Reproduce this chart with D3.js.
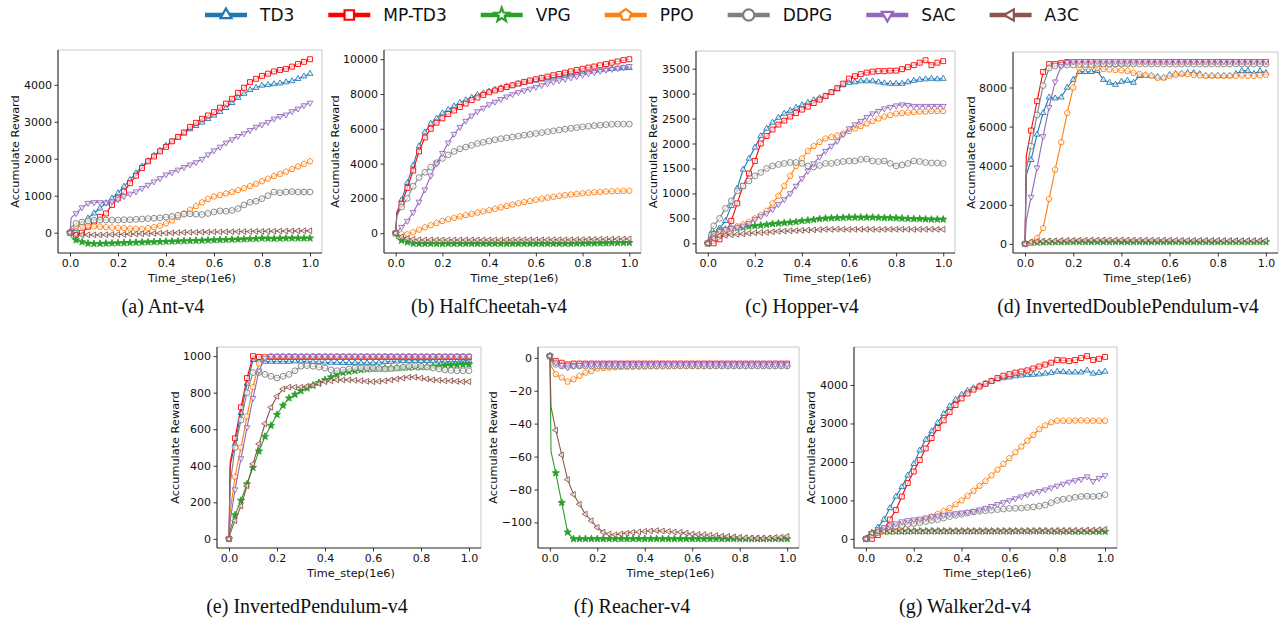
<!DOCTYPE html>
<html><head><meta charset="utf-8">
<script src="https://cdn.jsdelivr.net/npm/d3@7"></script>
<style>body{margin:0;background:#fff}svg{display:block}</style>
</head><body>
<svg id="c" width="1287" height="620"></svg>
<script>
// ---------- DATA ----------
const steps = [0,0.005,
 0.025,0.05,0.075,0.1,0.125,0.15,0.175,0.2,0.225,0.25,
 0.275,0.3,0.325,0.35,0.375,0.4,0.425,0.45,0.475,0.5,
 0.525,0.55,0.575,0.6,0.625,0.65,0.675,0.7,0.725,0.75,
 0.775,0.8,0.825,0.85,0.875,0.9,0.925,0.95,0.975,1.0];
const algorithms = ["TD3","MP-TD3","VPG","PPO","DDPG","SAC","A3C"];
const xTicks = [0,0.2,0.4,0.6,0.8,1.0];

// (a) Ant-v4
const ant_TD3 = [0,30,
 100,250,390,525,660,800,930,1070,1250,1430,
 1610,1790,1940,2080,2220,2350,2470,2580,2690,2800,
 2890,2980,3080,3170,3270,3375,3510,3650,3760,3860,
 3920,3980,4000,4020,4040,4070,4100,4160,4230,4300];
const ant_MPTD3 = [0,-20,
 -60,0,160,300,430,520,750,930,1110,1340,
 1540,1750,1930,2060,2200,2320,2470,2590,2710,2860,
 2970,3080,3170,3260,3380,3490,3620,3780,3920,4070,
 4160,4240,4300,4360,4400,4430,4490,4560,4620,4690];
const ant_VPG = [0,-120,
 -200,-250,-290,-300,-295,-290,-285,-280,-275,-270,
 -265,-260,-255,-250,-245,-240,-235,-230,-225,-220,
 -215,-210,-205,-200,-195,-190,-185,-180,-175,-170,
 -165,-150,-155,-160,-155,-150,-150,-150,-150,-150];
const ant_PPO = [0,80,
 170,190,190,170,160,150,140,130,120,110,
 105,100,120,150,190,250,330,420,520,620,
 720,820,910,980,1020,1060,1100,1150,1200,1260,
 1320,1390,1460,1530,1590,1650,1720,1790,1860,1930];
const ant_DDPG = [0,150,
 250,290,320,340,340,340,340,340,350,350,
 360,370,380,390,400,420,440,470,500,510,
 500,490,520,560,590,580,600,650,750,820,
 850,920,1000,1100,1080,1100,1110,1100,1100,1100];
const ant_SAC = [0,400,
 520,680,800,820,820,810,840,900,980,1050,
 1110,1200,1290,1380,1470,1570,1630,1700,1770,1840,
 1900,1990,2110,2220,2320,2430,2520,2610,2680,2770,
 2860,2920,2990,3080,3150,3190,3280,3350,3440,3510];
const ant_A3C = [0,-20,
 -50,-60,-60,-60,-60,-55,-50,-50,-45,-40,
 -35,-30,-25,-20,-15,-10,-5,0,5,10,
 10,15,15,20,20,25,25,30,30,30,
 35,35,40,40,45,45,50,50,50,50];
const ant_yTicks = [0,1000,2000,3000,4000];

// (b) HalfCheetah-v4
const hc_TD3 = [0,1200,
 1900,2900,3900,5000,5800,6300,6600,6900,7100,7300,
 7500,7650,7800,7950,8050,8150,8250,8350,8450,8500,
 8580,8650,8720,8780,8840,8900,8960,9020,9080,9130,
 9180,9230,9280,9330,9380,9420,9450,9470,9490,9500];
const hc_MPTD3 = [0,1100,
 1700,2600,3600,4700,5500,6000,6350,6600,6850,7050,
 7250,7450,7650,7800,7950,8100,8200,8300,8400,8500,
 8600,8700,8780,8850,8930,9000,9080,9150,9230,9300,
 9380,9450,9520,9580,9650,9720,9800,9870,9950,10000];
const hc_VPG = [0,-300,
 -420,-520,-590,-600,-600,-600,-600,-610,-600,-600,
 -600,-600,-600,-600,-600,-600,-600,-600,-600,-600,
 -600,-600,-600,-600,-600,-600,-600,-600,-600,-600,
 -590,-590,-580,-580,-570,-570,-560,-560,-555,-550];
const hc_PPO = [0,-30,
 -50,-60,50,200,330,450,580,700,800,880,
 960,1040,1110,1180,1250,1320,1400,1480,1560,1640,
 1720,1790,1850,1920,1980,2040,2090,2140,2180,2220,
 2260,2290,2320,2350,2370,2390,2410,2420,2430,2440];
const hc_DDPG = [0,1000,
 1500,2000,2700,3200,3500,3800,4050,4300,4500,4700,
 4850,4950,5050,5150,5220,5300,5370,5430,5480,5530,
 5580,5630,5680,5730,5780,5830,5880,5930,5980,6030,
 6070,6110,6150,6180,6210,6240,6260,6270,6270,6270];
const hc_SAC = [0,80,
 350,700,1200,1800,2500,3300,4000,4600,5200,5700,
 6100,6450,6750,7000,7200,7400,7550,7700,7850,7980,
 8100,8200,8300,8400,8500,8600,8700,8780,8860,8940,
 9020,9100,9180,9250,9320,9380,9430,9480,9540,9600];
const hc_A3C = [0,-100,
 -220,-300,-350,-380,-390,-390,-390,-390,-390,-390,
 -390,-390,-390,-390,-390,-390,-390,-390,-390,-390,
 -380,-380,-380,-380,-380,-380,-380,-380,-380,-380,
 -370,-370,-360,-360,-350,-350,-340,-340,-335,-330];
const hc_yTicks = [0,2000,4000,6000,8000,10000];

// (c) Hopper-v4
const hop_TD3 = [0,80,
 200,300,450,750,1100,1480,1700,1920,2150,2300,
 2420,2520,2600,2660,2720,2770,2820,2870,2910,2950,
 3020,3090,3170,3220,3230,3250,3250,3250,3230,3210,
 3200,3200,3200,3230,3260,3280,3290,3300,3290,3300];
const hop_MPTD3 = [0,-10,
 0,80,200,450,800,1150,1400,1650,2000,2150,
 2280,2380,2460,2540,2610,2680,2740,2810,2880,2950,
 3030,3110,3200,3300,3350,3390,3420,3440,3450,3450,
 3460,3460,3490,3530,3570,3620,3670,3570,3620,3650];
const hop_VPG = [0,100,
 200,250,280,300,310,320,340,350,360,375,
 390,400,410,420,430,450,460,475,490,500,
 505,510,515,520,520,520,520,520,515,510,
 510,505,500,495,490,490,485,480,480,480];
const hop_PPO = [0,80,
 150,200,250,300,340,380,430,500,570,650,
 800,950,1150,1350,1550,1700,1850,1950,2030,2100,
 2130,2160,2200,2250,2300,2350,2400,2450,2500,2540,
 2570,2600,2610,2620,2630,2640,2640,2650,2650,2650];
const hop_DDPG = [0,200,
 350,500,700,850,1050,1150,1250,1350,1420,1500,
 1550,1580,1600,1620,1620,1600,1550,1530,1560,1600,
 1600,1620,1640,1650,1650,1680,1690,1650,1640,1650,
 1600,1550,1570,1600,1650,1640,1620,1610,1610,1600];
const hop_SAC = [0,100,
 200,250,280,300,320,350,400,480,540,600,
 680,780,880,1000,1150,1300,1450,1600,1730,1850,
 1950,2050,2180,2300,2380,2450,2530,2600,2650,2700,
 2730,2760,2780,2770,2750,2750,2750,2750,2750,2750];
const hop_A3C = [0,50,
 100,150,160,170,180,190,200,210,215,220,
 230,240,245,250,255,260,265,270,275,280,
 280,282,280,278,280,282,280,280,278,280,
 280,280,282,280,278,280,280,282,280,280];
const hop_yTicks = [0,500,1000,1500,2000,2500,3000,3500];

// (d) InvertedDoublePendulum-v4
const idp_TD3 = [0,3500,
 4300,5600,6700,7500,7450,7500,8000,8400,8800,8800,
 8800,8850,8400,8250,8150,8300,8350,8250,8600,8600,
 8600,8550,8500,8650,8700,8700,8750,8750,8700,8600,
 8600,8600,8600,8600,8700,8850,8850,8700,8850,8750];
const idp_MPTD3 = [0,4500,
 5800,7300,8800,9200,9200,9250,9300,9300,9300,9300,
 9300,9250,9220,9220,9220,9230,9250,9280,9300,9300,
 9300,9300,9300,9300,9300,9300,9300,9300,9300,9300,
 9300,9300,9300,9300,9300,9300,9300,9300,9300,9300];
const idp_VPG = [0,30,
 50,70,80,90,90,95,95,100,100,100,
 100,100,100,100,100,100,100,100,100,100,
 100,100,100,100,100,100,100,100,100,100,
 100,100,100,100,100,100,100,100,100,100];
const idp_PPO = [0,0,
 50,300,800,2300,3800,5200,6700,8000,9000,9050,
 9050,9000,8950,8920,8900,8880,8850,8750,8700,8650,
 8600,8500,8500,8600,8650,8700,8680,8650,8620,8600,
 8600,8600,8600,8600,8600,8620,8600,8600,8620,8650];
const idp_DDPG = [0,3800,
 5000,6600,8100,9000,9100,9150,9150,9150,9180,9180,
 9180,9200,9200,9200,9200,9200,9200,9200,9200,9200,
 9200,9200,9200,9200,9200,9200,9200,9200,9200,9200,
 9200,9200,9200,9200,9200,9200,9200,9200,9200,9200];
const idp_SAC = [0,1200,
 2400,3900,5500,7000,8300,9100,9300,9330,9350,9350,
 9350,9350,9350,9350,9350,9350,9350,9350,9350,9350,
 9350,9350,9350,9350,9350,9350,9350,9350,9350,9350,
 9350,9350,9350,9350,9350,9350,9350,9350,9350,9350];
const idp_A3C = [0,50,
 100,120,140,150,160,170,180,180,190,190,
 200,200,200,200,200,200,200,190,190,190,
 190,190,190,190,180,180,180,180,180,180,
 180,180,170,170,170,170,170,170,170,170];
const idp_yTicks = [0,2000,4000,6000,8000];

// (e) InvertedPendulum-v4
const ip_TD3 = [0,400,
 520,690,850,980,975,970,970,970,970,970,
 972,972,970,968,968,966,965,964,963,963,
 963,962,962,962,965,968,970,972,974,975,
 975,975,974,973,972,970,970,972,974,975];
const ip_MPTD3 = [0,420,
 550,720,880,1000,995,995,995,995,995,995,
 995,995,995,995,995,995,995,995,995,995,
 995,995,995,995,995,995,995,995,995,995,
 995,995,995,995,995,995,995,995,995,995];
const ip_VPG = [0,50,
 130,210,300,390,480,560,620,680,730,770,
 790,810,825,840,855,870,885,900,910,915,
 920,925,928,930,932,933,934,935,937,938,
 940,940,942,944,945,947,950,952,954,955];
const ip_PPO = [0,150,
 340,500,670,830,960,995,1000,1000,1000,1000,
 1000,1000,1000,1000,1000,1000,1000,1000,1000,1000,
 1000,1000,1000,1000,1000,1000,1000,1000,1000,1000,
 1000,1000,1000,1000,1000,1000,1000,1000,1000,1000];
const ip_DDPG = [0,300,
 500,650,800,910,910,900,890,880,890,900,
 920,945,948,945,940,935,925,920,925,930,
 935,935,935,935,932,930,932,935,940,945,
 948,945,940,935,930,925,922,920,920,920];
const ip_SAC = [0,100,
 270,440,610,770,920,990,1000,1000,1000,1000,
 1000,1000,1000,1000,1000,1000,1000,1000,1000,1000,
 1000,1000,1000,1000,1000,1000,1000,1000,1000,1000,
 1000,1000,1000,1000,1000,1000,1000,1000,1000,1000];
const ip_A3C = [0,30,
 100,180,290,410,520,630,720,780,820,830,
 830,830,835,840,850,860,865,870,870,870,
 868,865,862,860,862,865,870,875,880,885,
 885,880,875,870,868,865,865,862,860,860];
const ip_yTicks = [0,200,400,600,800,1000];

// (f) Reacher-v4
const re_TD3 = [1,-1,
 -3,-4,-5,-4.5,-4.5,-4.5,-4.5,-4.5,-4.5,-4.5,
 -4.5,-4.5,-4.5,-4.5,-4.5,-4.5,-4.5,-4.5,-4.5,-4.5,
 -4.5,-4.5,-4.5,-4.5,-4.5,-4.5,-4.5,-4.5,-4.5,-4.5,
 -4.5,-4.5,-4.5,-4.5,-4.5,-4.5,-4.5,-4.5,-4.5,-4.5];
const re_MPTD3 = [1,-1,
 -2,-3,-4,-3.5,-3.5,-3.5,-3.5,-3.5,-3.5,-3.5,
 -3.5,-3.5,-3.5,-3.5,-3.5,-3.5,-3.5,-3.5,-3.5,-3.5,
 -3.5,-3.5,-3.5,-3.5,-3.5,-3.5,-3.5,-3.5,-3.5,-3.5,
 -3.5,-3.5,-3.5,-3.5,-3.5,-3.5,-3.5,-3.5,-3.5,-3.5];
const re_VPG = [1,-57,
 -70,-88,-106,-110,-110,-110,-110,-110,-110,-110,
 -110,-110,-110,-110,-110,-110,-110,-110,-110,-110,
 -110,-110,-110,-110,-110,-110,-110,-110,-110,-110,
 -110,-110,-110,-110,-110,-110,-110,-110,-110,-110];
const re_PPO = [1,-5,
 -10,-12,-14.5,-13,-11,-9,-8,-6.5,-6.2,-6,
 -5.8,-5.6,-5.5,-5.4,-5.3,-5.3,-5.2,-5.2,-5.1,-5.1,
 -5,-5,-5,-5,-5,-5,-5,-5,-5,-5,
 -5,-5,-5,-5,-5,-5,-5,-5,-5,-5];
const re_DDPG = [1,-2,
 -4,-5,-5.2,-5,-5,-5,-5,-5,-5,-5,
 -5,-5,-5,-5,-5,-5,-5,-5,-5,-5,
 -5,-5,-5,-5,-5,-5,-5,-5,-5,-5,
 -5,-5,-5,-5,-5,-5,-5,-5,-5,-5];
const re_SAC = [1,-1,
 -3,-4.5,-6,-5,-4.5,-4,-4,-4,-4,-4,
 -4,-4,-4,-4,-4,-4,-4,-4,-4,-4,
 -4,-4,-4,-4,-4,-4,-4,-4,-4,-4,
 -4,-4,-4,-4,-4,-4,-4,-4,-4,-4];
const re_A3C = [1,-30,
 -44,-59,-74,-83,-89,-95,-99,-103,-106,-107,
 -107.5,-107,-106.5,-106,-105.8,-105.5,-105.2,-105,-105.2,-105.5,
 -105.8,-106,-106.5,-107,-107.3,-107.5,-107.8,-108,-108.3,-108.5,
 -108.8,-109,-109.3,-109.5,-109.6,-109.6,-109.5,-109.2,-109,-108.5];
const re_yTicks = [-100,-80,-60,-40,-20,0];

// (g) Walker2d-v4
const wk_TD3 = [0,60,
 150,300,500,800,1100,1350,1650,1950,2300,2580,
 2800,3020,3250,3450,3620,3750,3850,3920,3980,4040,
 4100,4150,4180,4200,4230,4250,4260,4270,4280,4300,
 4320,4350,4340,4330,4330,4330,4380,4300,4320,4350];
const wk_MPTD3 = [0,0,
 0,100,250,500,750,1100,1450,1750,2050,2350,
 2620,2880,3080,3300,3480,3650,3780,3880,3960,4030,
 4100,4180,4240,4280,4320,4350,4380,4430,4480,4530,
 4580,4650,4640,4620,4650,4700,4750,4650,4680,4730];
const wk_VPG = [0,80,
 150,180,190,190,195,195,195,200,200,200,
 200,200,200,200,200,200,200,200,200,200,
 200,200,200,200,200,200,200,200,200,200,
 195,195,195,195,190,190,190,190,190,190];
const wk_PPO = [0,50,
 100,150,200,250,290,330,380,420,470,520,
 580,650,720,800,900,1000,1120,1250,1380,1500,
 1650,1800,1950,2100,2250,2400,2550,2700,2850,2950,
 3030,3070,3070,3070,3075,3080,3075,3070,3070,3070];
const wk_DDPG = [0,50,
 100,200,250,300,330,350,380,400,420,450,
 480,500,540,580,610,640,670,700,720,730,
 745,760,775,790,795,800,815,830,850,880,
 940,1000,1030,1050,1080,1100,1110,1100,1110,1150];
const wk_SAC = [0,80,
 150,250,300,350,400,450,480,500,520,550,
 580,600,620,650,660,680,700,720,760,800,
 850,900,950,1000,1050,1100,1150,1200,1240,1280,
 1330,1380,1430,1480,1520,1550,1620,1500,1580,1650];
const wk_A3C = [0,80,
 150,200,200,200,200,200,200,200,200,200,
 200,200,200,200,200,200,200,200,200,200,
 200,200,200,200,205,205,205,210,210,210,
 210,215,215,215,220,220,230,230,240,250];
const wk_yTicks = [0,1000,2000,3000,4000];

// ---------- STYLE / LAYOUT ----------
const colors = ["#1f77b4","#ff0000","#2ca02c","#ff7f0e","#7f7f7f","#9467bd","#8c564b"];
const markers = ["triUp","square","star","pentagon","circle","triDown","triLeft"];

const panels = [
 {cap:"(a) Ant-v4", series:[ant_TD3,ant_MPTD3,ant_VPG,ant_PPO,ant_DDPG,ant_SAC,ant_A3C], yTicks:ant_yTicks,
  box:[58,50,322,253], ylabX:15, capX:163, row:0},
 {cap:"(b) HalfCheetah-v4", series:[hc_TD3,hc_MPTD3,hc_VPG,hc_PPO,hc_DDPG,hc_SAC,hc_A3C], yTicks:hc_yTicks,
  box:[384,50,641,253], ylabX:335, capX:489, row:0},
 {cap:"(c) Hopper-v4", series:[hop_TD3,hop_MPTD3,hop_VPG,hop_PPO,hop_DDPG,hop_SAC,hop_A3C], yTicks:hop_yTicks,
  box:[696,51,955,253], ylabX:653, capX:802, row:0},
 {cap:"(d) InvertedDoublePendulum-v4", series:[idp_TD3,idp_MPTD3,idp_VPG,idp_PPO,idp_DDPG,idp_SAC,idp_A3C], yTicks:idp_yTicks,
  box:[1013,52,1278,253], ylabX:971, capX:1128, row:0},
 {cap:"(e) InvertedPendulum-v4", series:[ip_TD3,ip_MPTD3,ip_VPG,ip_PPO,ip_DDPG,ip_SAC,ip_A3C], yTicks:ip_yTicks,
  box:[217,347,481,548], ylabX:175, capX:307, row:1},
 {cap:"(f) Reacher-v4", series:[re_TD3,re_MPTD3,re_VPG,re_PPO,re_DDPG,re_SAC,re_A3C], yTicks:re_yTicks,
  box:[538,347,799,548], ylabX:493, capX:632, row:1},
 {cap:"(g) Walker2d-v4", series:[wk_TD3,wk_MPTD3,wk_VPG,wk_PPO,wk_DDPG,wk_SAC,wk_A3C], yTicks:wk_yTicks,
  box:[854,347,1117,548], ylabX:811, capX:965, row:1}
];

function polygon(n, rot, r){
  const pts=[];
  for(let i=0;i<n;i++){const a=rot+i*2*Math.PI/n; pts.push([r*Math.cos(a), r*Math.sin(a)]);}
  return "M"+pts.map(p=>p[0].toFixed(2)+","+p[1].toFixed(2)).join("L")+"Z";
}
function starPath(r){
  const pts=[];
  for(let i=0;i<10;i++){const a=-Math.PI/2+i*Math.PI/5; const rr=i%2?r*0.42:r; pts.push([rr*Math.cos(a), rr*Math.sin(a)]);}
  return "M"+pts.map(p=>p[0].toFixed(2)+","+p[1].toFixed(2)).join("L")+"Z";
}
function markerPath(type, r){
  switch(type){
    case "triUp": return polygon(3,-Math.PI/2,r*1.15);
    case "triDown": return polygon(3,Math.PI/2,r*1.15);
    case "triLeft": return polygon(3,Math.PI,r*1.15);
    case "square": return polygon(4,Math.PI/4,r*1.2);
    case "pentagon": return polygon(5,-Math.PI/2,r*1.05);
    case "star": return starPath(r*1.3);
    default: return d3.symbol().type(d3.symbolCircle).size(Math.PI*r*r)();
  }
}

const svg = d3.select("#c");
svg.append("rect").attr("width",1287).attr("height",620).attr("fill","#fff");

// ---------- PANELS ----------
panels.forEach(p=>{
  const [x0,y0,x1,y1] = p.box;
  const g = svg.append("g");
  const all = p.series.flat();
  const mn = d3.min(all), mx = d3.max(all), pad = (mx-mn)*0.05;
  const x = d3.scaleLinear().domain([-0.05,1.05]).range([x0,x1]);
  const y = d3.scaleLinear().domain([mn-pad, mx+pad]).range([y1,y0]);

  // frame: top/right light, left/bottom dark
  g.append("line").attr("x1",x0).attr("x2",x1).attr("y1",y0).attr("y2",y0).attr("stroke","#c8c8c8").attr("stroke-width",1);
  g.append("line").attr("x1",x1).attr("x2",x1).attr("y1",y0).attr("y2",y1).attr("stroke","#c8c8c8").attr("stroke-width",1);

  const line = d3.line().x((d,i)=>x(steps[i])).y(d=>y(d));
  p.series.forEach((s,si)=>{
    const c = colors[si];
    g.append("path").attr("d",line(s)).attr("fill","none").attr("stroke",c).attr("stroke-width",1.1).attr("stroke-linejoin","round");
    const mp = markerPath(markers[si], 2.9);
    g.selectAll(null).data(s.map((v,i)=>[steps[i],v]).filter((d,i)=>i!==1)).enter().append("path")
      .attr("d",mp).attr("transform",d=>`translate(${x(d[0])},${y(d[1])})`)
      .attr("fill", markers[si]==="star"? c : "#fff").attr("fill-opacity", markers[si]==="star"?1:0.65)
      .attr("stroke",c).attr("stroke-width",0.9);
  });

  const ax = g.append("g").attr("transform",`translate(0,${y1})`)
    .call(d3.axisBottom(x).tickValues(xTicks).tickFormat(d3.format(".1f")).tickSize(3.5).tickPadding(2.5));
  const ay = g.append("g").attr("transform",`translate(${x0},0)`)
    .call(d3.axisLeft(y).tickValues(p.yTicks).tickFormat(d3.format("d")).tickSize(3.5).tickPadding(2.5));
  [ax,ay].forEach(a=>{
    a.select(".domain").attr("stroke","#222").attr("stroke-width",1.1);
    a.selectAll(".tick line").attr("stroke","#222").attr("stroke-width",0.9);
    a.selectAll(".tick text").attr("fill","#111").style("font-family","DejaVu Sans").style("font-size","11px");
  });
  // make domain lines span the whole frame
  ax.select(".domain").attr("d",`M${x0},0H${x1}`);
  ay.select(".domain").attr("d",`M0,${y0}V${y1}`);

  g.append("text").attr("transform",`translate(${p.ylabX},${(y0+y1)/2}) rotate(-90)`)
    .attr("text-anchor","middle").attr("dy","0.35em")
    .style("font-family","DejaVu Sans").style("font-size","11.3px").attr("fill","#111")
    .text("Accumulate Reward");
  g.append("text").attr("x",(x0+x1)/2+2).attr("y",y1+29)
    .attr("text-anchor","middle")
    .style("font-family","DejaVu Sans").style("font-size","11.3px").attr("fill","#111")
    .text("Time_step(1e6)");
  g.append("text").attr("x",p.capX).attr("y",p.row===0?313:613)
    .attr("text-anchor","middle")
    .style("font-family","Liberation Serif").style("font-size","20px").attr("fill","#111")
    .text(p.cap);
});

// ---------- LEGEND ----------
const leg = svg.append("g");
let lx = 205; const ly = 15;
algorithms.forEach((name,i)=>{
  const c = colors[i];
  leg.append("line").attr("x1",lx).attr("x2",lx+42).attr("y1",ly).attr("y2",ly).attr("stroke",c).attr("stroke-width",4.5);
  leg.append("path").attr("d",markerPath(markers[i],5.6)).attr("transform",`translate(${lx+21},${ly})`)
    .attr("fill","#fff").attr("stroke",c).attr("stroke-width",2.2);
  const t = leg.append("text").attr("x",lx+55).attr("y",ly).attr("dy","0.36em")
    .style("font-family","DejaVu Sans").style("font-size","17px").attr("fill","#111").text(name);
  lx += 55 + t.node().getComputedTextLength() + 34;
});
</script>
</body></html>
